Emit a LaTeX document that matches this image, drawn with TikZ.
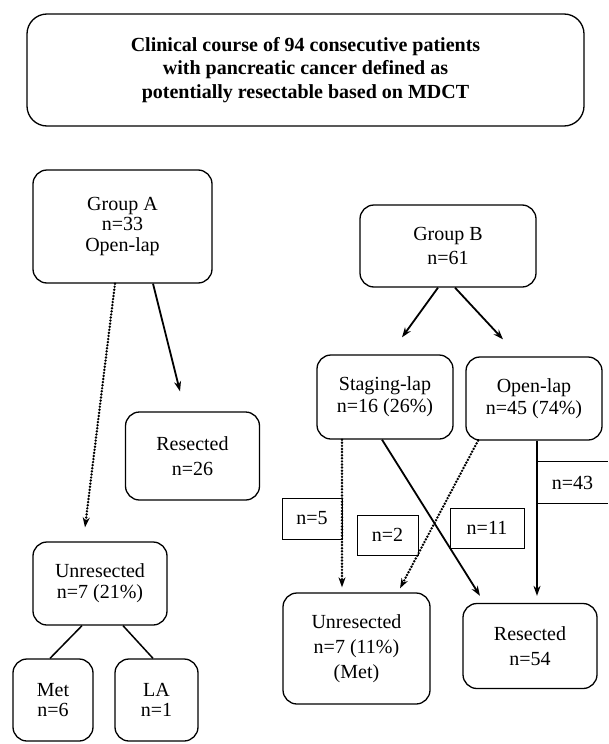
\documentclass[tikz,border=0pt]{standalone}
\usepackage{fontspec}
\setmainfont{Liberation Serif}
\usetikzlibrary{arrows.meta}
\tikzset{
  rbox/.style={draw, line width=1.3pt, rounded corners=14pt, align=center, inner sep=0pt,
    font=\fontsize{20}{22}\selectfont},
  lbox/.style={draw, line width=1pt, align=center, inner sep=0pt,
    font=\fontsize{20}{22}\selectfont},
  solidarrow/.style={line width=1.8pt, -{Stealth[length=10pt,width=7pt]}},
  dotarrow/.style={line width=2.7pt, line cap=round, dash pattern=on 0pt off 3.1pt,
    -{Stealth[length=10pt,width=7pt,line cap=butt]}},
  plainline/.style={line width=1.5pt}
}
\begin{document}
\begin{tikzpicture}[x=1pt,y=-1pt]
\useasboundingbox[fill=white] (0,0) rectangle (608,744);
% title
\node[rbox, rounded corners=20pt, minimum width=557pt, minimum height=112pt,
  font=\fontsize{20}{23.5}\selectfont\bfseries] (title) at (305.5,70)
  {Clinical course of 94 consecutive patients\\with pancreatic cancer defined as\\potentially resectable based on MDCT};
% group A
\node[rbox, minimum width=179pt, minimum height=113pt, font=\fontsize{20}{20.5}\selectfont] (ga) at (122.5,226.5) {Group A\\n=33\\Open-lap};
\node[rbox, minimum width=134pt, minimum height=88pt, font=\fontsize{20}{25}\selectfont] (ra) at (192.5,456) {Resected\\n=26};
\node[rbox, minimum width=134pt, minimum height=83pt, font=\fontsize{20}{21}\selectfont] (ua) at (100,583.5) {Unresected\\n=7 (21\%)};
\node[rbox, minimum width=80pt, minimum height=82pt, font=\fontsize{20}{20.5}\selectfont] (met) at (53,700) {Met\\n=6};
\node[rbox, minimum width=83pt, minimum height=82pt, font=\fontsize{20}{20.5}\selectfont] (la) at (156.5,700) {LA\\n=1};
% group B
\node[rbox, minimum width=176pt, minimum height=82pt, font=\fontsize{20}{24}\selectfont] (gb) at (448,246) {Group B\\n=61};
\node[rbox, minimum width=136pt, minimum height=84pt] (stg) at (385,397) {Staging-lap\\n=16 (26\%)};
\node[rbox, minimum width=136pt, minimum height=83pt] (op) at (534,398.5) {Open-lap\\n=45 (74\%)};
\node[rbox, minimum width=147pt, minimum height=111pt, font=\fontsize{20}{25}\selectfont] (ub) at (356.5,648.5) {Unresected\\n=7 (11\%)\\(Met)};
\node[rbox, minimum width=134pt, minimum height=85pt, font=\fontsize{20}{25}\selectfont] (rb) at (530,646) {Resected\\n=54};
% labels
\node[lbox, minimum width=60pt, minimum height=41pt] (n5) at (312,518.5) {n=5};
\node[lbox, minimum width=61pt, minimum height=40pt] (n2) at (387.5,535) {n=2};
\node[lbox, minimum width=74pt, minimum height=40pt] (n11) at (487,528) {n=11};
\node[align=center, inner sep=0pt, minimum width=71pt, minimum height=41pt,
  font=\fontsize{20}{22}\selectfont] (n43) at (572.5,482.5) {n=43};
\draw[line width=1pt] (n43.north west) -- (n43.north east);
\draw[line width=1pt] (n43.south west) -- (n43.south east);
% connectors group A
\draw[dotarrow] ([xshift=-7.5pt]ga.south) -- ([xshift=-15pt,yshift=14pt]ua.north);
\draw[solidarrow] ([xshift=30.5pt]ga.south) -- ([xshift=-12.5pt,yshift=20pt]ra.north);
\draw[plainline] ([xshift=-18pt]ua.south) -- ([xshift=-3pt]met.north);
\draw[plainline] ([xshift=23pt]ua.south) -- ([xshift=-3.5pt]la.north);
% connectors group B
\draw[solidarrow] ([xshift=-10pt]gb.south) -- ([xshift=17pt,yshift=17pt]stg.north);
\draw[solidarrow] ([xshift=7pt]gb.south) -- ([xshift=-31pt,yshift=17pt]op.north);
\draw[dotarrow] ([xshift=-43pt]stg.south) -- ([xshift=-14.5pt,yshift=5pt]ub.north);
\draw[solidarrow] ([xshift=-3pt]stg.south) -- ([xshift=-50pt,yshift=7pt]rb.north);
\draw[dotarrow] ([xshift=-56pt]op.south) -- ([xshift=43.5pt,yshift=4pt]ub.north);
\draw[solidarrow] ([xshift=3pt]op.south) -- ([xshift=7pt,yshift=7pt]rb.north);
\end{tikzpicture}
\end{document}
